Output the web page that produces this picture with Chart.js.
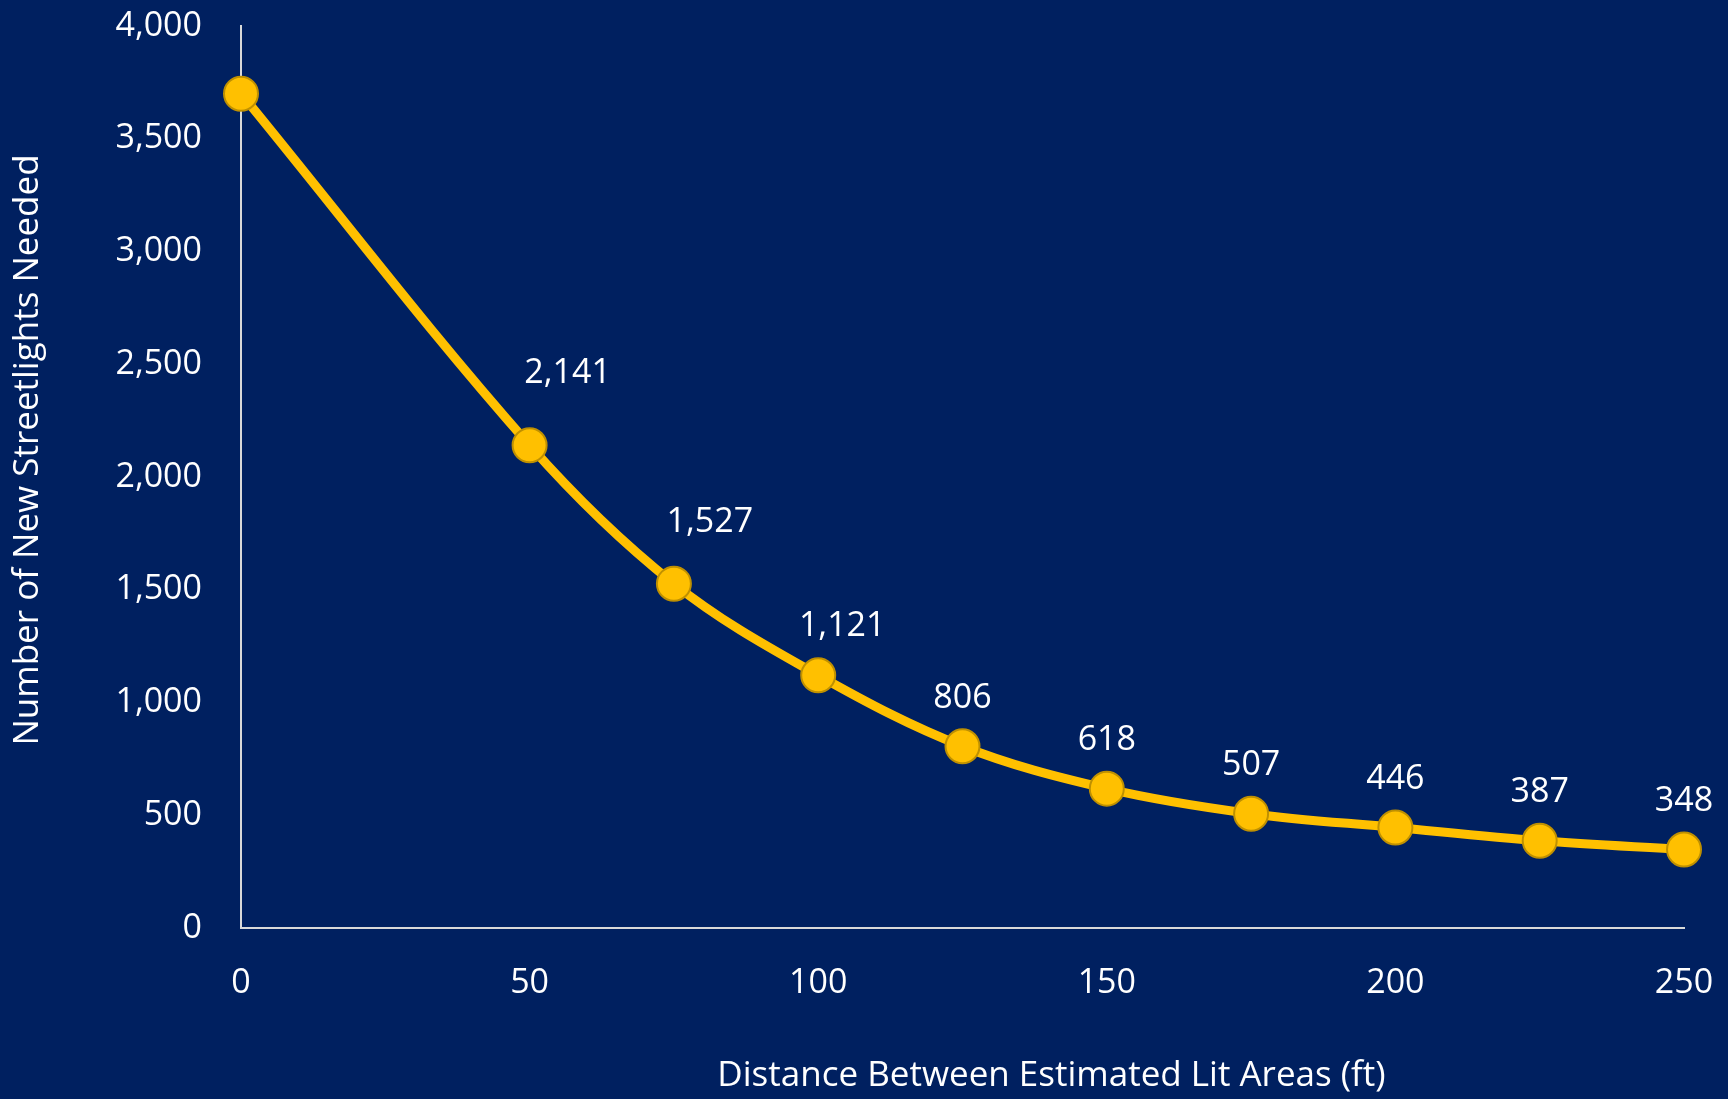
<!DOCTYPE html>
<html>
<head>
<meta charset="utf-8">
<script src="https://cdn.jsdelivr.net/npm/chart.js@4/dist/chart.umd.min.js"></script>
<style>
  html, body { margin: 0; padding: 0; background: #002060; }
  #wrap { width: 1728px; height: 1099px; position: relative; }
</style>
</head>
<body>
<div id="wrap"><canvas id="c" width="1728" height="1099"></canvas></div>
<script>
// Distance between estimated lit areas (ft) and streetlights needed
const distances = [0, 50, 75, 100, 125, 150, 175, 200, 225, 250];
const streetlights = [3700, 2141, 1527, 1121, 806, 618, 507, 446, 387, 348];
const labelled = [false, true, true, true, true, true, true, true, true, true];
const yTicks = [0, 500, 1000, 1500, 2000, 2500, 3000, 3500, 4000];
const xTicks = [0, 50, 100, 150, 200, 250];
const xTitle = 'Distance Between Estimated Lit Areas (ft)';
const yTitle = 'Number of New Streetlights Needed';

// label nudges (dx, dy in px) relative to default spot above each point
const labelNudge = [[0,0],[38,-22],[36,-11],[24,1],[0,2],[0,2],[0,2],[0,2],[0,2],[0,2]];

const FONT = '"Open Sans", "Noto Sans", sans-serif';
const FSIZE = 34;
const TSIZE = 35;
const fmt = v => v.toLocaleString('en-US');

const valueLabels = {
  id: 'valueLabels',
  afterDatasetsDraw(chart) {
    const ctx = chart.ctx;
    const meta = chart.getDatasetMeta(0);
    ctx.save();
    ctx.fillStyle = '#ffffff';
    ctx.font = FSIZE + 'px ' + FONT;
    ctx.textAlign = 'center';
    ctx.textBaseline = 'middle';
    meta.data.forEach((pt, i) => {
      if (!labelled[i]) return;
      const [dx, dy] = labelNudge[i];
      ctx.fillText(fmt(streetlights[i]), pt.x + dx, pt.y - 50 + dy);
    });
    ctx.restore();
  }
};

const axisTitles = {
  id: 'axisTitles',
  afterDraw(chart) {
    const ctx = chart.ctx;
    const a = chart.chartArea;
    ctx.save();
    ctx.fillStyle = '#ffffff';
    ctx.font = TSIZE + 'px ' + FONT;
    ctx.textAlign = 'center';
    ctx.textBaseline = 'middle';
    ctx.fillText(xTitle, (a.left + a.right) / 2 + 89, 1076);
    ctx.translate(28, (a.top + a.bottom) / 2 - 27);
    ctx.rotate(-Math.PI / 2);
    ctx.fillText(yTitle, 0, 0);
    ctx.restore();
  }
};

new Chart(document.getElementById('c'), {
  type: 'line',
  data: {
    datasets: [{
      data: distances.map((d, i) => ({ x: d, y: streetlights[i] })),
      borderColor: '#FFC000',
      borderWidth: 9,
      tension: 0.35,
      pointRadius: 17,
      pointHoverRadius: 17,
      pointBackgroundColor: '#FFC000',
      pointBorderColor: '#BF9000',
      pointBorderWidth: 2,
      clip: false
    }]
  },
  options: {
    responsive: false,
    animation: false,
    events: [],
    layout: { padding: { left: 0, right: 44, top: 26, bottom: 0 } },
    plugins: { legend: { display: false }, tooltip: { enabled: false } },
    scales: {
      x: {
        type: 'linear',
        min: 0, max: 250,
        afterFit(s) { s.height = 171; s.paddingLeft = 0; s.paddingRight = 0; },
        afterBuildTicks(s) { s.ticks = xTicks.map(v => ({ value: v })); },
        grid: { display: false, drawTicks: false },
        border: { display: true, color: '#d9d9d9', width: 2 },
        ticks: { color: '#ffffff', font: { size: FSIZE, family: FONT }, padding: 35, maxRotation: 0 }
      },
      y: {
        type: 'linear',
        min: 0, max: 4000,
        afterFit(s) { s.width = 241; s.paddingTop = 0; s.paddingBottom = 0; },
        afterBuildTicks(s) { s.ticks = yTicks.map(v => ({ value: v })); },
        grid: { display: false, drawTicks: false },
        border: { display: true, color: '#d9d9d9', width: 2 },
        ticks: { color: '#ffffff', font: { size: FSIZE, family: FONT }, padding: 39, callback: v => fmt(v) }
      }
    }
  },
  plugins: [valueLabels, axisTitles]
});
</script>
</body>
</html>
